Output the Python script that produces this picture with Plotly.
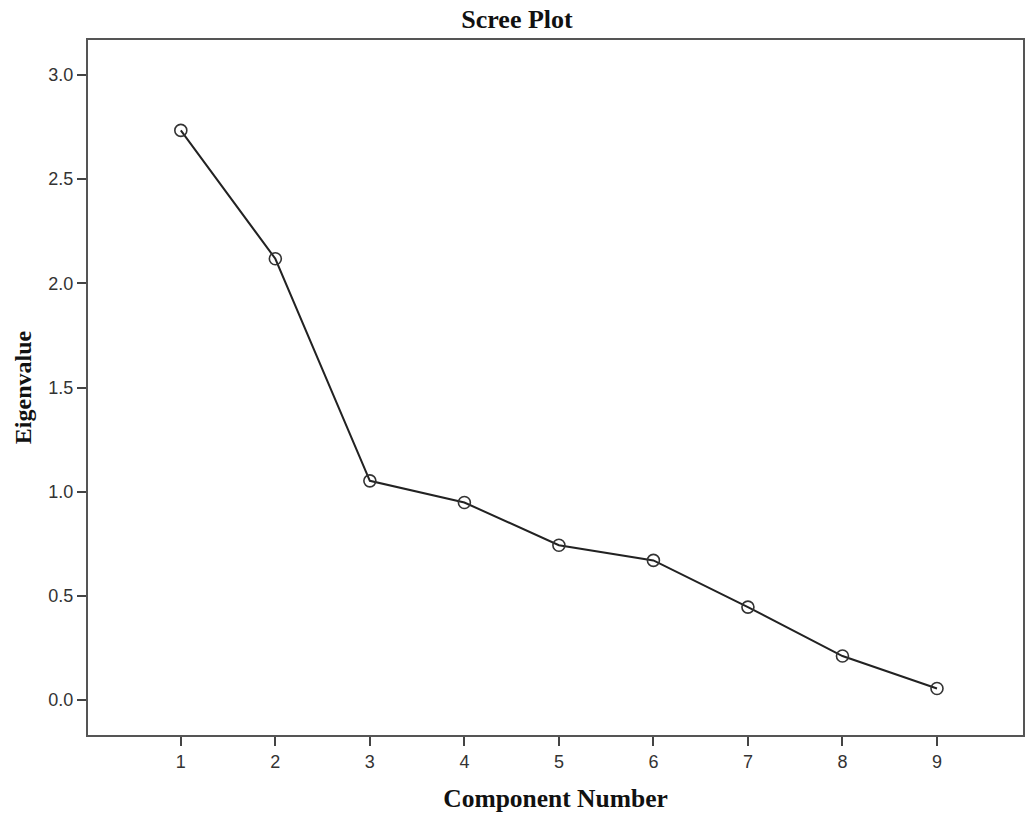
import plotly.graph_objects as go

components = [1, 2, 3, 4, 5, 6, 7, 8, 9]
eigenvalues = [2.734, 2.118, 1.052, 0.948, 0.743, 0.670, 0.446, 0.211, 0.055]
y_ticks = [0.0, 0.5, 1.0, 1.5, 2.0, 2.5, 3.0]
y_tick_labels = ["0.0", "0.5", "1.0", "1.5", "2.0", "2.5", "3.0"]

SERIF = "Liberation Serif, Times New Roman, serif"

fig = go.Figure()
fig.add_trace(go.Scatter(
    x=components, y=eigenvalues, mode="lines+markers",
    line=dict(color="#222222", width=2),
    marker=dict(symbol="circle-open", size=12, color="#333333", line=dict(width=1.6, color="#333333")),
    showlegend=False,
))

axis_common = dict(
    showline=True, linecolor="#555555", linewidth=2, mirror=True,
    showgrid=False, zeroline=False,
    ticks="outside", ticklen=9, tickwidth=2, tickcolor="#444444",
    tickfont=dict(family="Liberation Sans, Arial, sans-serif", size=18, color="#333333"),
)

W, H = 1026, 816
fig.update_layout(
    width=W, height=H,
    margin=dict(l=88, r=1, t=40, b=81),
    paper_bgcolor="white", plot_bgcolor="white",
    title=dict(text="<b>Scree Plot</b>", x=517/W, xref="container", xanchor="center",
               y=1 - 18.5/H, yref="container", yanchor="middle",
               font=dict(family=SERIF, size=26, color="#111111")),
    xaxis=dict(range=[0.018, 9.91], tickvals=components, ticktext=[str(c) for c in components],
               title=dict(text="<b>Component Number</b>", standoff=19,
                          font=dict(family=SERIF, size=25.5, color="#111111")),
               **axis_common),
    yaxis=dict(range=[-0.168, 3.168], tickvals=y_ticks, ticktext=y_tick_labels,
               title=dict(text="<b>Eigenvalue</b>", standoff=10,
                          font=dict(family=SERIF, size=24, color="#111111")),
               **axis_common),
)

fig.write_html("out.html", config={"displayModeBar": False},
               post_script="document.body.style.margin='0';")
